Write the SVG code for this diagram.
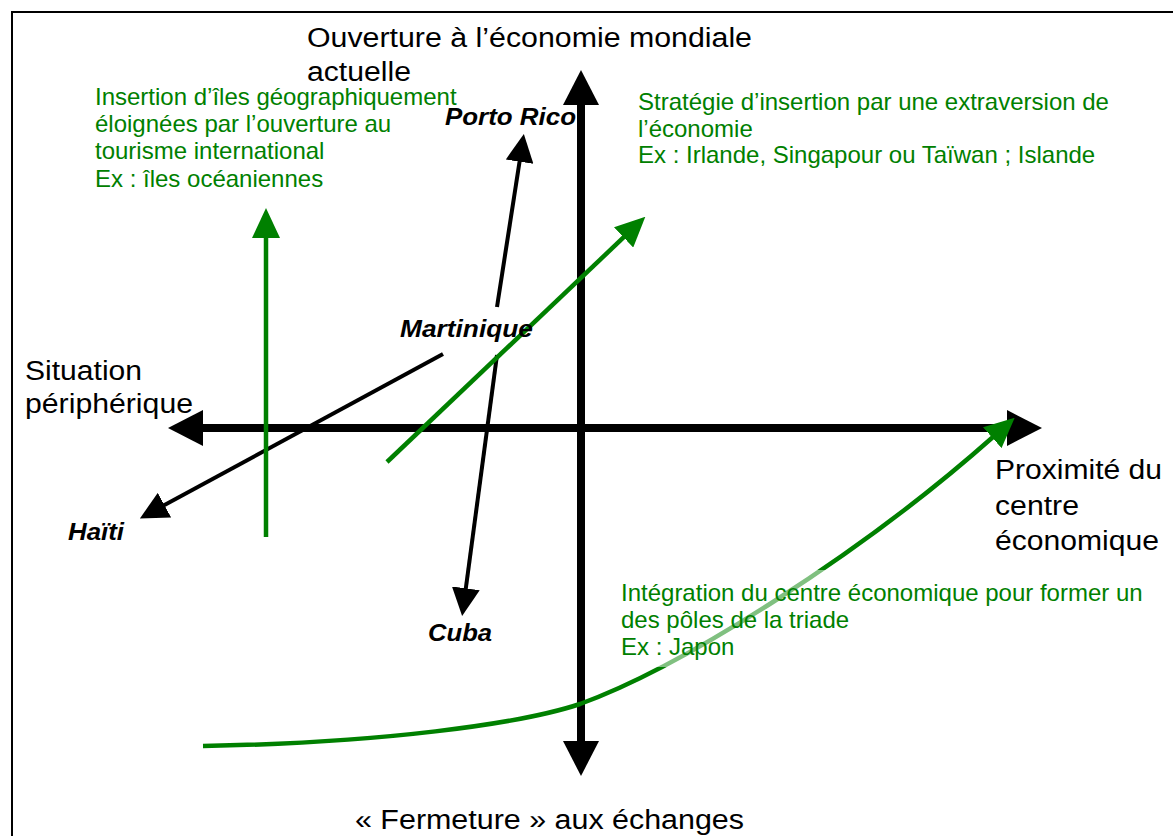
<svg xmlns="http://www.w3.org/2000/svg" width="1173" height="836" viewBox="0 0 1173 836">
  <style>
    text { font-family: "Liberation Sans", Arial, Helvetica, sans-serif; }
    .axislabel { font-size: 27px; fill: #000; }
    .note { font-size: 24px; fill: #008000; }
    .country { font-size: 23.5px; font-weight: bold; font-style: italic; fill: #000; }
    .axis { stroke: #000; stroke-width: 8; fill: none; marker-start: url(#axisHead); marker-end: url(#axisHead); }
    .blk { stroke: #000; stroke-width: 4; fill: none; marker-end: url(#blkHead); }
    .grn { stroke: #008000; stroke-width: 4.5; fill: none; marker-end: url(#grnHead); }
  </style>
  <defs>
    <marker id="axisHead" viewBox="0 -18 35 36" refX="1" refY="0" markerWidth="35" markerHeight="36" markerUnits="userSpaceOnUse" orient="auto-start-reverse">
      <path d="M0,-18 L35,0 L0,18 z" fill="#000"/>
    </marker>
    <marker id="blkHead" viewBox="0 -14 28 28" refX="1" refY="0" markerWidth="28" markerHeight="28" markerUnits="userSpaceOnUse" orient="auto">
      <path d="M0,-14 L28,0 L0,14 z" fill="#000"/>
    </marker>
    <marker id="grnHead" viewBox="0 -14 30 28" refX="1" refY="0" markerWidth="30" markerHeight="28" markerUnits="userSpaceOnUse" orient="auto">
      <path d="M0,-14 L30,0 L0,14 z" fill="#008000"/>
    </marker>
  </defs>

  <rect width="1173" height="836" fill="#fff"/>
  <path id="frame" d="M12,838 L12,12 L1175,12" stroke="#000" stroke-width="2" fill="none"/>

  <g id="connectors">
    <path id="axis-h" class="axis" d="M202,428 L1008,428"/>
    <path id="axis-v" class="axis" d="M581,104 L581,742"/>
    <path id="arrow-portorico" class="blk" d="M497,307 L519.7,160.7"/>
    <path id="arrow-haiti" class="blk" d="M443,354 L163.6,505.6"/>
    <path id="arrow-cuba" class="blk" d="M497,355 L465.7,589.3"/>
    <path id="arrow-tourisme" class="grn" d="M266,537 L266,237"/>
    <path id="arrow-extraversion" class="grn" d="M387,462 L624.3,236.7"/>
    <path id="arrow-triade" class="grn" stroke-width="5" d="M203,746 C380,743 520,724 580,704 C680,668 860,555 993,437"/>
  </g>

  <g id="label-ouverture">
    <text class="axislabel" x="307" y="47" textLength="445" lengthAdjust="spacingAndGlyphs">Ouverture à l’économie mondiale</text>
    <text class="axislabel" x="307" y="81" textLength="104" lengthAdjust="spacingAndGlyphs">actuelle</text>
  </g>
  <g id="label-situation">
    <text class="axislabel" x="25" y="380" textLength="117" lengthAdjust="spacingAndGlyphs">Situation</text>
    <text class="axislabel" x="25" y="413" textLength="168" lengthAdjust="spacingAndGlyphs">périphérique</text>
  </g>
  <g id="label-proximite">
    <text class="axislabel" x="995" y="479" textLength="167" lengthAdjust="spacingAndGlyphs">Proximité du</text>
    <text class="axislabel" x="995" y="515" textLength="84" lengthAdjust="spacingAndGlyphs">centre</text>
    <text class="axislabel" x="995" y="550" textLength="164" lengthAdjust="spacingAndGlyphs">économique</text>
  </g>
  <g id="label-fermeture">
    <text class="axislabel" x="355" y="829" textLength="389" lengthAdjust="spacingAndGlyphs">« Fermeture » aux échanges</text>
  </g>

  <g id="note-tourisme">
    <text class="note" x="95" y="105">Insertion d’îles géographiquement</text>
    <text class="note" x="95" y="132">éloignées par l’ouverture au</text>
    <text class="note" x="95" y="159">tourisme international</text>
    <text class="note" x="95" y="187">Ex : îles océaniennes</text>
  </g>
  <g id="note-extraversion">
    <text class="note" x="638" y="110">Stratégie d’insertion par une extraversion de</text>
    <text class="note" x="638" y="137">l’économie</text>
    <text class="note" x="638" y="163">Ex : Irlande, Singapour ou Taïwan ; Islande</text>
  </g>
  <g id="note-triade">
    <rect x="612" y="570" width="540" height="97" fill="#fff" fill-opacity="0.5"/>
    <text class="note" x="621" y="601">Intégration du centre économique pour former un</text>
    <text class="note" x="621" y="628">des pôles de la triade</text>
    <text class="note" x="621" y="655">Ex : Japon</text>
  </g>

  <g id="country-portorico">
    <text class="country" x="445" y="125" textLength="131" lengthAdjust="spacingAndGlyphs">Porto Rico</text>
  </g>
  <g id="country-martinique">
    <text class="country" x="400" y="337" textLength="133" lengthAdjust="spacingAndGlyphs">Martinique</text>
  </g>
  <g id="country-haiti">
    <text class="country" x="68" y="540" textLength="56" lengthAdjust="spacingAndGlyphs">Haïti</text>
  </g>
  <g id="country-cuba">
    <text class="country" x="428" y="641" textLength="64" lengthAdjust="spacingAndGlyphs">Cuba</text>
  </g>
</svg>
